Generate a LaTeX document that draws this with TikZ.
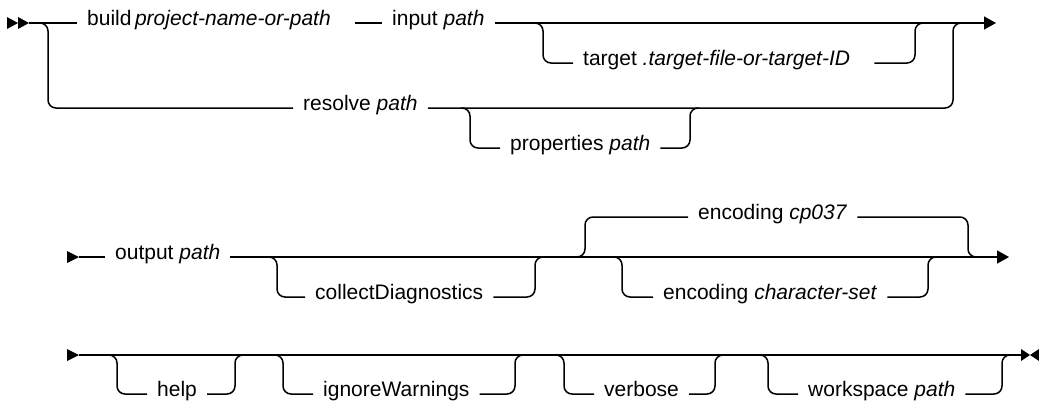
\documentclass[tikz,border=0pt]{standalone}
\usepackage{fontspec}
\setmainfont{Liberation Sans}
\usepackage{tikz}
\usetikzlibrary{arrows.meta,calc}

\begin{document}
\begin{tikzpicture}[x=1pt, y=-1pt,
rail/.style={line width=1.5pt, rounded corners=8pt},
lbl/.style={anchor=mid west, inner xsep=10pt, inner ysep=2pt, font=\fontsize{21}{25}\selectfont},
endarrow/.style={-{Triangle[length=12pt,width=13pt]}}
]
\useasboundingbox (0,0) rectangle (1039,405);

% first line: build or resolve
\fill (7,17) -- (18,23) -- (7,29) -- cycle;
\fill (18,17) -- (29,23) -- (18,29) -- cycle;
\coordinate (s1) at (29,23);
\coordinate (e1) at (996,23);
\node[lbl] (build) at (77,23) {build\,\textit{project-name-or-path}\hspace*{14pt}};
\node[lbl] (input) at (382,23) {input \textit{path}};
\node[lbl] (target) at (573,63) {target \textit{.target-file-or-target-ID}\hspace*{14pt}};
\node[lbl] (resolve) at (293,108) {resolve \textit{path}};
\node[lbl] (props) at (500,148) {properties \textit{path}};
\draw[rail] (s1) -- (build.mid west);
\draw[rail] (build.mid east) -- (input.mid west);
\draw[rail, endarrow] (input.mid east) -- (e1);
\coordinate (tgin) at (543,23);
\coordinate (tgout) at (915,23);
\draw[rail] ($(tgin)+(-10,0)$) -- (tgin) |- (target.mid west);
\draw[rail] (target.mid east) -| (tgout) -- ++(9,0);
\coordinate (altin) at (48,23);
\coordinate (altout) at (953,23);
\draw[rail] ($(altin)+(-10,0)$) -- (altin) |- (resolve.mid west);
\draw[rail] (resolve.mid east) -| (altout) -- ++(10,0);
\coordinate (prin) at (470,108);
\coordinate (prout) at (690,108);
\draw[rail] ($(prin)+(-9,0)$) -- (prin) |- (props.mid west);
\draw[rail] (props.mid east) -| (prout) -- ++(9,0);

% second line: output and options
\fill (67,251) -- (79,257) -- (67,263) -- cycle;
\coordinate (s2) at (79,257);
\coordinate (e2) at (1009,257);
\node[lbl] (output) at (105,257) {output \textit{path}};
\node[lbl] (collect) at (305,297) {collectDiagnostics};
\node[lbl] (enc) at (688,217) {encoding \textit{cp037}};
\node[lbl] (encset) at (653,297) {encoding \textit{character-set}};
\draw[rail] (s2) -- (output.mid west);
\draw[rail, endarrow] (output.mid east) -- (e2);
\coordinate (cdin) at (277,257);
\coordinate (cdout) at (535,257);
\draw[rail] ($(cdin)+(-9,0)$) -- (cdin) |- (collect.mid west);
\draw[rail] (collect.mid east) -| (cdout) -- ++(9,0);
\coordinate (encin) at (585,257);
\coordinate (encout) at (968,257);
\draw[rail] ($(encin)+(-10,0)$) -- (encin) |- (enc.mid west);
\draw[rail] (enc.mid east) -| (encout) -- ++(9,0);
\coordinate (csin) at (622,257);
\coordinate (csout) at (928,257);
\draw[rail] ($(csin)+(-9,0)$) -- (csin) |- (encset.mid west);
\draw[rail] (encset.mid east) -| (csout) -- ++(8,0);

% third line: flags
\fill (67,349) -- (79,355) -- (67,361) -- cycle;
\coordinate (s3) at (79,355);
\coordinate (e3) at (1021,355);
\draw[rail] (s3) -- (e3);
\fill (1021,349) -- (1030,355) -- (1021,361) -- cycle;
\fill (1039,349) -- (1030,355) -- (1039,361) -- cycle;
\node[lbl] (help) at (147,394) {help};
\node[lbl] (ignore) at (313,394) {ignoreWarnings};
\node[lbl] (verbose) at (594,394) {verbose};
\node[lbl] (workspace) at (798,394) {workspace \textit{path}};
\coordinate (hpin) at (117,355);
\coordinate (hpout) at (235,355);
\draw[rail] ($(hpin)+(-9,0)$) -- (hpin) |- (help.mid west);
\draw[rail] (help.mid east) -| (hpout) -- ++(8,0);
\coordinate (igin) at (283,355);
\coordinate (igout) at (515,355);
\draw[rail] ($(igin)+(-9,0)$) -- (igin) |- (ignore.mid west);
\draw[rail] (ignore.mid east) -| (igout) -- ++(8,0);
\coordinate (vbin) at (564,355);
\coordinate (vbout) at (715,355);
\draw[rail] ($(vbin)+(-9,0)$) -- (vbin) |- (verbose.mid west);
\draw[rail] (verbose.mid east) -| (vbout) -- ++(8,0);
\coordinate (wsin) at (768,355);
\coordinate (wsout) at (1002,355);
\draw[rail] ($(wsin)+(-9,0)$) -- (wsin) |- (workspace.mid west);
\draw[rail] (workspace.mid east) -| (wsout) -- ++(8,0);
\end{tikzpicture}
\end{document}
